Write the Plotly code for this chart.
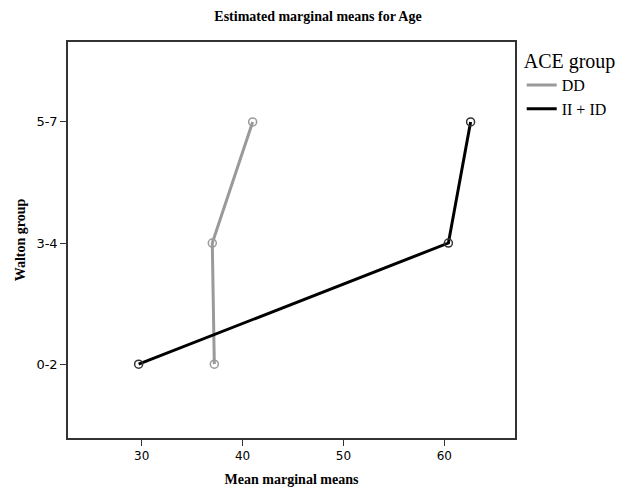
import plotly.graph_objects as go

walton_groups = ["0-2", "3-4", "5-7"]
dd_means = [37.2, 37.0, 41.0]
ii_id_means = [29.7, 60.4, 62.6]
series_names = ["DD", "II + ID"]
series_colors = ["#9a9a9a", "#000000"]
marker_colors = ["#9a9a9a", "#333333"]
x_ticks = [30, 40, 50, 60]

ypos = list(range(len(walton_groups)))

fig = go.Figure()
for name, vals, col, mcol in zip(series_names, [dd_means, ii_id_means], series_colors, marker_colors):
    fig.add_trace(go.Scatter(
        x=vals, y=ypos, mode="lines+markers", name=name, showlegend=False,
        line=dict(color=col, width=3),
        marker=dict(symbol="circle-open", size=8, color=mcol, line=dict(width=1.5)),
    ))
for name, col in zip(series_names, series_colors):
    fig.add_trace(go.Scatter(
        x=[None], y=[None], mode="lines", name=name,
        line=dict(color=col, width=3),
    ))

fig.update_layout(
    width=636, height=492,
    margin=dict(l=68, r=121, t=42, b=54, autoexpand=False),
    paper_bgcolor="white", plot_bgcolor="white",
    title=dict(text="<b>Estimated marginal means for Age</b>", x=0.5, xanchor="center",
               xref="container", y=0.978, yanchor="top", yref="container",
               font=dict(family="Liberation Serif", size=14, color="black")),
    xaxis=dict(range=[22.7, 67.0], tickvals=x_ticks, ticks="outside", ticklen=6,
               tickcolor="#333", showgrid=False, zeroline=False, automargin=False,
               showline=True, linecolor="#333", linewidth=1.5, mirror=True,
               tickfont=dict(family="DejaVu Sans", size=12, color="black"),
               title=dict(text="<b>Mean marginal means</b>", standoff=12,
                          font=dict(family="Liberation Serif", size=14, color="black"))),
    yaxis=dict(range=[-0.61, 2.66], tickvals=ypos, ticktext=walton_groups,
               ticks="outside", ticklen=6, tickcolor="#333", showgrid=False, zeroline=False,
               automargin=False,
               showline=True, linecolor="#333", linewidth=1.5, mirror=True,
               tickfont=dict(family="DejaVu Sans", size=13, color="black"),
               title=dict(text="<b>Walton group</b>", standoff=8,
                          font=dict(family="Liberation Serif", size=14, color="black"))),
    legend=dict(x=1.015, y=1.0, xanchor="left", yanchor="top",
                title=dict(text="ACE group", font=dict(family="Liberation Serif", size=20, color="black")),
                font=dict(family="Liberation Serif", size=16, color="black"),
                bgcolor="rgba(0,0,0,0)", itemwidth=30, tracegroupgap=0),
    showlegend=True,
)

fig.write_html("out.html", config={"displayModeBar": False},
               post_script="document.body.style.margin='0';")
